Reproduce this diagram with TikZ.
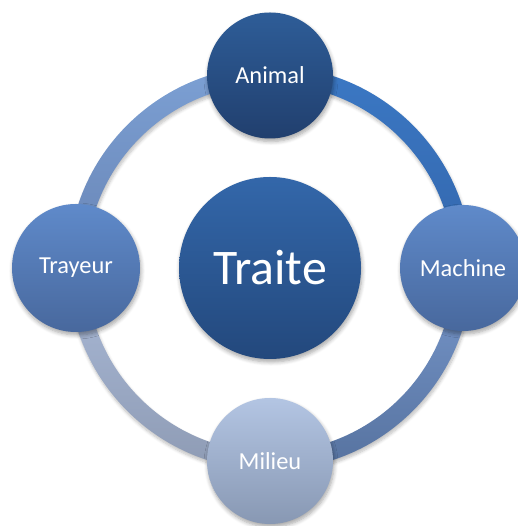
\documentclass[tikz,border=0pt]{standalone}
\usepackage{fontspec}
\setmainfont{Carlito}
\usetikzlibrary{shadows.blur}
\definecolor{anTop}{HTML}{2E5D98}
\definecolor{anBot}{HTML}{213F6E}
\definecolor{trTop}{HTML}{3367AA}
\definecolor{trBot}{HTML}{23487C}
\definecolor{sdTop}{HTML}{5F8ACA}
\definecolor{sdBot}{HTML}{48689D}
\definecolor{miTop}{HTML}{B3C5E3}
\definecolor{miBot}{HTML}{8898B3}
\definecolor{rTRt}{HTML}{3B78C4}
\definecolor{rTRb}{HTML}{3366AC}
\definecolor{rTLt}{HTML}{7CA0D4}
\definecolor{rTLb}{HTML}{6884B4}
\definecolor{rBLt}{HTML}{AABAD8}
\definecolor{rBLb}{HTML}{8E9BB4}
\definecolor{rBRt}{HTML}{7898CC}
\definecolor{rBRb}{HTML}{56729F}
\tikzset{
  ball/.style={circle, inner sep=0pt, text=white,
    blur shadow={shadow xshift=1bp, shadow yshift=-3bp, shadow blur steps=6, shadow opacity=35, shadow blur radius=4bp}},
  small/.style={ball, minimum size=126bp, font=\fontsize{24.5}{28}\selectfont},
  ringpart/.style={blur shadow={shadow xshift=1bp, shadow yshift=-3bp, shadow blur steps=6, shadow opacity=25, shadow blur radius=3bp}}
}
\begin{document}
\begin{tikzpicture}[x=1bp,y=1bp]
\useasboundingbox (0,0) rectangle (518,526);
\clip (0,0) rectangle (518,526);
\coordinate (c) at (270,258);
% ring quadrants
\def\ri{184}\def\ro{202}
\shade[ringpart, top color=rTRt, bottom color=rTRb] ([shift={(0:\ro)}]c) arc[start angle=0,end angle=90,radius=\ro] -- ([shift={(90:\ri)}]c) arc[start angle=90,end angle=0,radius=\ri] -- cycle;
\shade[ringpart, top color=rTLt, bottom color=rTLb] ([shift={(90:\ro)}]c) arc[start angle=90,end angle=180,radius=\ro] -- ([shift={(180:\ri)}]c) arc[start angle=180,end angle=90,radius=\ri] -- cycle;
\shade[ringpart, top color=rBLt, bottom color=rBLb] ([shift={(180:\ro)}]c) arc[start angle=180,end angle=270,radius=\ro] -- ([shift={(270:\ri)}]c) arc[start angle=270,end angle=180,radius=\ri] -- cycle;
\shade[ringpart, top color=rBRt, bottom color=rBRb] ([shift={(270:\ro)}]c) arc[start angle=270,end angle=360,radius=\ro] -- ([shift={(0:\ri)}]c) arc[start angle=360,end angle=270,radius=\ri] -- cycle;
% circles
\node[ball, minimum size=182bp, top color=trTop, bottom color=trBot, font=\fontsize{50}{55}\selectfont] (traite) at (270,258) {Traite};
\node[small, top color=anTop, bottom color=anBot] (animal) at (270,450.5) {Animal};
\node[small, top color=sdTop, bottom color=sdBot] (machine) at (463,258) {Machine};
\node[small, top color=miTop, bottom color=miBot] (milieu) at (270,65) {Milieu};
\node[small, minimum size=128bp, top color=sdTop, bottom color=sdBot] (trayeur) at (76,258) {Trayeur};
\end{tikzpicture}
\end{document}
